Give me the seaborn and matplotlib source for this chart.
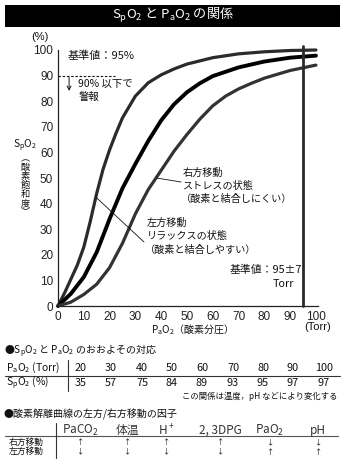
import matplotlib
matplotlib.use("Agg")
import matplotlib.pyplot as plt
from matplotlib.patches import Rectangle
from matplotlib.lines import Line2D
import seaborn as sns
import pandas as pd

# ---------------- data ----------------
left_pao2 = [0, 2.5, 5, 7.5, 10, 12.5, 15, 17.5, 20, 22.5, 25, 30, 35, 40, 45, 50, 60, 70, 80, 90, 100]
left_spo2 = [0, 5.0, 10.5, 16.0, 23.0, 33.0, 44.0, 53.5, 61.0, 67.5, 73.5, 82.0, 87.2, 90.3, 92.6, 94.5, 97.0, 98.5, 99.3, 99.8, 100]
mid_pao2 = [0, 5, 10, 15, 20, 25, 30, 35, 40, 45, 50, 55, 60, 70, 80, 90, 100]
mid_spo2 = [0, 4.8, 11.3, 21.0, 34.0, 46.0, 55.5, 64.5, 72.5, 78.8, 83.5, 87.0, 89.8, 93.2, 95.5, 97.0, 97.8]
right_pao2 = [0, 5, 10, 15, 20, 25, 30, 35, 40, 45, 50, 55, 60, 65, 70, 75, 80, 90, 100]
right_spo2 = [0, 1.5, 4.5, 8.5, 15.0, 24.5, 36.0, 45.5, 53.0, 60.5, 67.0, 73.0, 78.2, 82.0, 84.8, 87.0, 89.0, 92.0, 94.1]

alarm_spo2 = 90
ref_pao2 = 95
x_ticks = [0, 10, 20, 30, 40, 50, 60, 70, 80, 90, 100]
y_ticks = [0, 10, 20, 30, 40, 50, 60, 70, 80, 90, 100]

tbl_pao2 = [20, 30, 40, 50, 60, 70, 80, 90, 100]
tbl_spo2 = [35, 57, 75, 84, 89, 93, 95, 97, 97]

factors = ["PaCO$_2$", "体温", "H$^+$", "2, 3DPG", "PaO$_2$", "pH"]
right_shift = ["↑", "↑", "↑", "↑", "↓", "↓"]
left_shift = ["↓", "↓", "↓", "↓", "↑", "↑"]

# ---------------- style ----------------
sns.set_theme(style="white")
CJK = ["Noto Sans CJK JP", "DejaVu Sans"]
plt.rcParams["font.family"] = CJK
plt.rcParams["mathtext.default"] = "regular"
NARROW = ["Liberation Sans Narrow", "Liberation Sans", "DejaVu Sans"]

W, H = 347, 469
fig = plt.figure(figsize=(W / 100, H / 100), dpi=100)
fig.patch.set_facecolor("white")


def fp(x, y):
    return (x / W, 1 - y / H)


def T(x, y, s, **kw):
    kw.setdefault("va", "center")
    kw.setdefault("color", "#111111")
    fig.text(*fp(x, y), s, **kw)


def hline(x0, x1, y, **kw):
    fig.add_artist(Line2D([x0 / W, x1 / W], [1 - y / H, 1 - y / H], transform=fig.transFigure, **kw))


def vline(x, y0, y1, **kw):
    fig.add_artist(Line2D([x / W, x / W], [1 - y0 / H, 1 - y1 / H], transform=fig.transFigure, **kw))


# title bar
fig.add_artist(Rectangle(fp(5, 27), 335 / W, 22 / H, transform=fig.transFigure,
                         facecolor="black", edgecolor="none"))
T(173, 16, "S$_p$O$_2$ と P$_a$O$_2$ の関係", ha="center", fontsize=9.5, color="white")

# ---------------- chart ----------------
ax = fig.add_axes([58 / W, 1 - 306 / H, 260 / W, 256 / H])
df = pd.concat([
    pd.DataFrame({"PaO2": left_pao2, "SpO2": left_spo2, "curve": "left"}),
    pd.DataFrame({"PaO2": mid_pao2, "SpO2": mid_spo2, "curve": "normal"}),
    pd.DataFrame({"PaO2": right_pao2, "SpO2": right_spo2, "curve": "right"}),
])
palette = {"left": "#2b2b2b", "normal": "#000000", "right": "#333333"}
sns.lineplot(data=df, x="PaO2", y="SpO2", hue="curve", palette=palette,
             sort=False, estimator=None, legend=False, ax=ax, linewidth=2.3)
for ln, lw in zip(ax.lines, [2.3, 2.8, 2.3]):
    ln.set_linewidth(lw)
    ln.set_clip_on(False)
    ln.set_solid_capstyle("round")
    ln.set_solid_joinstyle("round")

ax.set_xlim(0, 100.8)
ax.set_ylim(0, 100)
ax.set_xticks(x_ticks)
ax.set_yticks(y_ticks)
ax.set_xlabel("")
ax.set_ylabel("")
for s in ["top", "right"]:
    ax.spines[s].set_visible(False)
for s in ["left", "bottom"]:
    ax.spines[s].set_linewidth(0.9)
    ax.spines[s].set_color("#222222")
ax.tick_params(direction="in", length=4, width=0.8, color="#222222", pad=3.5,
               labelsize=8.5, labelcolor="#222222")
for lab in ax.get_xticklabels() + ax.get_yticklabels():
    lab.set_fontfamily(NARROW)

# reference lines
ax.plot([ref_pao2, ref_pao2], [0, 101.5], color="#2a2a2a", lw=2.0, clip_on=False)
ax.plot([0, 22], [alarm_spo2, alarm_spo2], color="#111111", lw=0.8,
        linestyle=(0, (2.2, 1.6)), clip_on=False)
ax.annotate("", xy=(4.3, 84), xytext=(4.3, 89.4),
            arrowprops=dict(arrowstyle="->", lw=0.7, color="#111111",
                            shrinkA=0, shrinkB=0, mutation_scale=7))

# leader lines (to points on the right / left curves)
ax.annotate("", xy=(right_pao2[8] - 1.8, 50.0), xytext=(181, H - 182),
            textcoords="figure pixels",
            arrowprops=dict(arrowstyle="-", lw=0.6, color="#111111", shrinkA=0, shrinkB=0))
ax.annotate("", xy=(left_pao2[6] - 0.4, 42.6), xytext=(144, H - 242),
            textcoords="figure pixels",
            arrowprops=dict(arrowstyle="-", lw=0.6, color="#111111", shrinkA=0, shrinkB=0))

# in-chart texts
T(68, 56, "基準値：95%", fontsize=8)
T(78, 84, "90% 以下で", fontsize=7.5)
T(79, 97, "警報", fontsize=7.5)
T(183, 173, "右方移動", fontsize=7.3)
T(183, 186, "ストレスの状態", fontsize=7.3)
T(181, 199, "（酸素と結合しにくい）", fontsize=7.3)
T(147, 223, "左方移動", fontsize=7.3)
T(147, 236, "リラックスの状態", fontsize=7.3)
T(145, 250, "（酸素と結合しやすい）", fontsize=7.3)
T(302, 270, "基準値：95±7", fontsize=7.8, ha="right")
T(294, 284, "Torr", fontsize=7.8, ha="right")

# axis labels
T(40, 37, "(%)", fontsize=8, ha="center", fontfamily=NARROW)
T(25, 146, "S$_p$O$_2$", fontsize=7.3, ha="center")
for i, ch in enumerate(["︵", "酸", "素", "飽", "和", "度", "︶"]):
    T(25, 158.5 + i * 9.1, ch, fontsize=6.6, ha="center")
T(190, 330, "P$_a$O$_2$（酸素分圧）", fontsize=7.2, ha="center")
T(318, 327, "(Torr)", fontsize=8, ha="center", fontfamily=NARROW)

# ---------------- table 1 ----------------
T(4, 351, "●S$_p$O$_2$ と P$_a$O$_2$ のおおよその対応", fontsize=7.2)
T(6, 368, "P$_a$O$_2$ (Torr)", fontsize=7.5)
T(6, 383, "S$_p$O$_2$ (%)", fontsize=7.5)
col_x = [81, 111, 142, 172, 202, 233, 263, 293, 324]
for x, a, b in zip(col_x, tbl_pao2, tbl_spo2):
    T(x, 368, str(a), fontsize=7.8, ha="center")
    T(x, 383, str(b), fontsize=7.8, ha="center")
hline(5, 340, 376, color="#333333", lw=0.8)
vline(68, 360, 391, color="#333333", lw=0.8)
T(337, 396, "この関係は温度，pH などにより変化する", fontsize=6, ha="right")

# ---------------- table 2 ----------------
T(4, 414, "●酸素解離曲線の左方/右方移動の因子", fontsize=7.2)
fx = [80, 127, 166, 220, 270, 318]
for x, f, r, l in zip(fx, factors, right_shift, left_shift):
    T(x, 430, f, fontsize=8.5, ha="center", color="#333333")
    T(x, 442, r, fontsize=5.2, ha="center")
    T(x, 451.5, l, fontsize=5.2, ha="center")
T(9, 442, "右方移動", fontsize=6.3)
T(9, 451.5, "左方移動", fontsize=6.3)
hline(5, 338, 436, color="#555555", lw=0.8)
vline(56, 423, 458, color="#333333", lw=0.8)

fig.savefig("out.png", dpi=100, facecolor="white")
